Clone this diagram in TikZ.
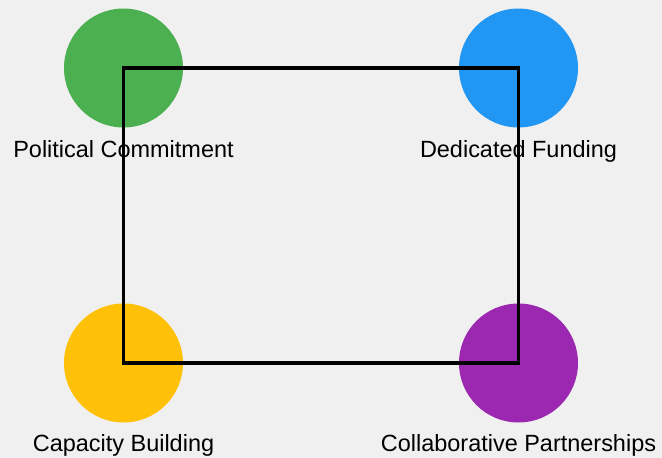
\documentclass[tikz,border=0pt]{standalone}
\usepackage{fontspec}
\setmainfont{Liberation Sans}
\usepackage{tikz}

\definecolor{bggray}{HTML}{F0F0F0}
\definecolor{pcgreen}{HTML}{4CAF50}
\definecolor{dfblue}{HTML}{2196F3}
\definecolor{cbyellow}{HTML}{FFC107}
\definecolor{cppurple}{HTML}{9C27B0}

\tikzset{
    pillar/.style={circle, minimum size=119*0.75pt, inner sep=0pt},
    pillarlabel/.style={anchor=base, inner sep=0pt, font=\fontsize{17.6}{20}\selectfont}
}

\begin{document}
\begin{tikzpicture}[x=0.75pt, y=-0.75pt]  % one unit is one pixel, y runs downwards
    % Background
    \fill[bggray] (0,0) rectangle (662,458);
    \useasboundingbox (0,0) rectangle (662,458);

    % Draw the four circles at the corners
    \node[pillar, fill=pcgreen]  (pc) at (123.5,68) {};
    \node[pillar, fill=dfblue]   (df) at (518.5,68) {};
    \node[pillar, fill=cbyellow] (cb) at (123.5,363) {};
    \node[pillar, fill=cppurple] (cp) at (518.5,363) {};

    % Draw the frame joining the centres
    \draw[line width=2.7pt] (pc.center) -- (df.center) -- (cp.center) -- (cb.center) -- cycle;

    % Labels under the circles
    \node[pillarlabel] (pclabel) at (123.5,157) {Political Commitment};
    \node[pillarlabel] (dflabel) at (518.5,157) {Dedicated Funding};
    \node[pillarlabel] (cblabel) at (123.5,451.5) {Capacity Building};
    \node[pillarlabel] (cplabel) at (518.5,451.5) {Collaborative Partnerships};

\end{tikzpicture}
\end{document}
